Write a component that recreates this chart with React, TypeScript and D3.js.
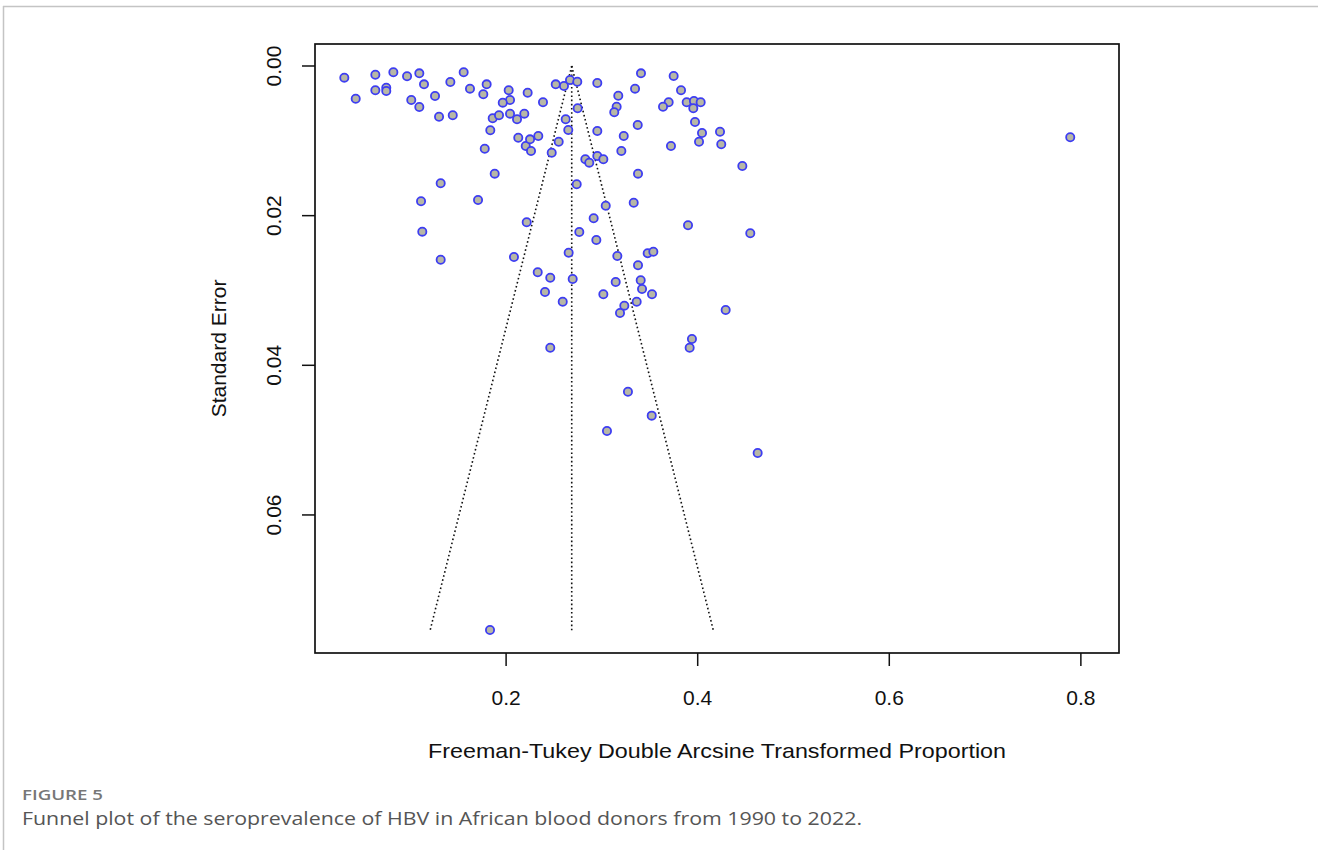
import React from "react";
import * as d3 from "d3";

// Freeman-Tukey transformed proportion (x) and standard error (y) per study
const effects: number[] = [
  0.0311, 0.0430, 0.0635, 0.0635, 0.0749, 0.0749, 0.0823, 0.0966, 0.1094, 0.1143,
  0.1010, 0.1094, 0.1258, 0.1300, 0.1443, 0.1418, 0.1557, 0.1623, 0.1797, 0.1762,
  0.2027, 0.2041, 0.1965, 0.2225, 0.1860, 0.1926, 0.2041, 0.2114, 0.2190, 0.1835,
  0.1777, 0.2127, 0.2205, 0.2385, 0.2518, 0.2604, 0.2667, 0.2743, 0.2952, 0.2747,
  0.2622, 0.2649, 0.2952, 0.3171, 0.3154, 0.3129, 0.3346, 0.3408, 0.3749, 0.3826,
  0.3697, 0.3638, 0.3885, 0.3961, 0.4031, 0.3954, 0.3972, 0.3374, 0.3228, 0.3203,
  0.3721, 0.4045, 0.4014, 0.4233, 0.4246, 0.2260, 0.2250, 0.2336, 0.2549, 0.2476,
  0.2827, 0.2868, 0.2952, 0.3015, 0.4466, 0.1317, 0.1112, 0.1707, 0.1125, 0.1317,
  0.1881, 0.2215, 0.2082, 0.2330, 0.2461, 0.2406, 0.2591, 0.2737, 0.3377, 0.3040,
  0.3332, 0.2914, 0.2764, 0.2942, 0.2653, 0.2695, 0.3161, 0.3377, 0.3478, 0.3537,
  0.3144, 0.3405, 0.3419, 0.3523, 0.3015, 0.3234, 0.3363, 0.3189, 0.3899, 0.4549,
  0.4292, 0.3940, 0.3916, 0.2461, 0.3272, 0.3520, 0.3053, 0.4626, 0.1832, 0.7889,
];

const standardErrors: number[] = [
  0.00156, 0.00437, 0.00116, 0.00325, 0.00290, 0.00334, 0.00084, 0.00138, 0.00098, 0.00245,
  0.00454, 0.00548, 0.00401, 0.00678, 0.00659, 0.00214, 0.00084, 0.00303, 0.00245, 0.00378,
  0.00325, 0.00454, 0.00490, 0.00357, 0.00699, 0.00659, 0.00637, 0.00712, 0.00637, 0.00859,
  0.01105, 0.00958, 0.01069, 0.00485, 0.00245, 0.00267, 0.00187, 0.00210, 0.00227, 0.00565,
  0.00712, 0.00855, 0.00869, 0.00397, 0.00544, 0.00619, 0.00303, 0.00098, 0.00134, 0.00325,
  0.00485, 0.00544, 0.00485, 0.00468, 0.00485, 0.00565, 0.00748, 0.00788, 0.00935, 0.01136,
  0.01069, 0.00895, 0.01012, 0.00878, 0.01046, 0.01136, 0.00980, 0.00935, 0.01012, 0.01159,
  0.01247, 0.01292, 0.01203, 0.01247, 0.01336, 0.01568, 0.01808, 0.01791, 0.02214, 0.02589,
  0.01439, 0.02089, 0.02552, 0.02757, 0.02829, 0.03020, 0.03150, 0.01581, 0.01439, 0.01867,
  0.01827, 0.02035, 0.02218, 0.02325, 0.02495, 0.02846, 0.02539, 0.02663, 0.02503, 0.02482,
  0.02887, 0.02864, 0.02980, 0.03051, 0.03051, 0.03203, 0.03150, 0.03301, 0.02129, 0.02236,
  0.03261, 0.03648, 0.03765, 0.03765, 0.04353, 0.04673, 0.04878, 0.05172, 0.07537, 0.00953,
];

const pooledEstimate = 0.2685;
const maxSE = 0.0754;
const xTicks: number[] = [0.2, 0.4, 0.6, 0.8];
const xTickLabels: string[] = ["0.2", "0.4", "0.6", "0.8"];
const yTicks: number[] = [0, 0.02, 0.04, 0.06];
const yTickLabels: string[] = ["0.00", "0.02", "0.04", "0.06"];

const xTitle = "Freeman-Tukey Double Arcsine Transformed Proportion";
const yTitle = "Standard Error";
const figureLabel = "FIGURE 5";
const caption =
  "Funnel plot of the seroprevalence of HBV in African blood donors from 1990 to 2022.";

export default function App() {
  const W = 1318;
  const H = 850;
  const box = { left: 315, right: 1119, top: 44, bottom: 653 };
  const x = d3.scaleLinear().domain([0.0005, 0.8398]).range([box.left, box.right]);
  const y = d3.scaleLinear().domain([-0.00294, 0.07845]).range([box.top, box.bottom]);

  const pts = effects.map((e, i) => ({ e, se: standardErrors[i] }));
  const line = d3
    .line<[number, number]>()
    .x((d) => x(d[0]))
    .y((d) => y(d[1]));
  const leftFunnel: [number, number][] = [
    [pooledEstimate, 0],
    [pooledEstimate - 1.96 * maxSE, maxSE],
  ];
  const rightFunnel: [number, number][] = [
    [pooledEstimate, 0],
    [pooledEstimate + 1.96 * maxSE, maxSE],
  ];
  const centerLine: [number, number][] = [
    [pooledEstimate, 0],
    [pooledEstimate, maxSE],
  ];
  const chartFont = "'Liberation Sans', Arial, sans-serif";
  const captionFont = "'Open Sans', 'Noto Sans', sans-serif";
  const cx = (box.left + box.right) / 2;
  const cy = (box.top + box.bottom) / 2;

  return (
    <svg
      width={W}
      height={H}
      style={{ position: "absolute", left: 0, top: 0, background: "#fff" }}
    >
      <rect x={0} y={0} width={W} height={H} fill="#fff" />
      <line x1={3} x2={W} y1={6.5} y2={6.5} stroke="#c4c4c4" strokeWidth={1.5} />
      <line x1={3.5} x2={3.5} y1={6} y2={H} stroke="#c4c4c4" strokeWidth={1.5} />

      {/* funnel lines */}
      {[leftFunnel, rightFunnel, centerLine].map((d, i) => (
        <path
          key={i}
          d={line(d) || ""}
          fill="none"
          stroke="#111"
          strokeWidth={1.6}
          strokeDasharray="1.6,2.6"
        />
      ))}

      {/* points */}
      {pts.map((p, i) => (
        <circle
          key={i}
          cx={x(p.e)}
          cy={y(p.se)}
          r={4.1}
          fill="#b7b7a6"
          stroke="#3d3df2"
          strokeWidth={1.8}
        />
      ))}

      {/* box */}
      <rect
        x={box.left}
        y={box.top}
        width={box.right - box.left}
        height={box.bottom - box.top}
        fill="none"
        stroke="#111"
        strokeWidth={1.7}
      />

      {/* x axis */}
      {xTicks.map((t, i) => (
        <g key={i}>
          <line x1={x(t)} x2={x(t)} y1={box.bottom} y2={box.bottom + 13} stroke="#111" strokeWidth={1.5} />
          <text
            x={x(t)}
            y={box.bottom + 44}
            textAnchor="middle"
            dominantBaseline="central"
            fontFamily={chartFont}
            fontSize={21}
            fill="#111"
          >
            {xTickLabels[i]}
          </text>
        </g>
      ))}
      {/* y axis */}
      {yTicks.map((t, i) => (
        <g key={i}>
          <line x1={box.left - 13} x2={box.left} y1={y(t)} y2={y(t)} stroke="#111" strokeWidth={1.5} />
          <text
            transform={`translate(${box.left - 42},${y(t)}) rotate(-90)`}
            textAnchor="middle"
            dominantBaseline="central"
            fontFamily={chartFont}
            fontSize={21}
            fill="#111"
          >
            {yTickLabels[i]}
          </text>
        </g>
      ))}

      <text
        x={cx}
        y={box.bottom + 97}
        textAnchor="middle"
        dominantBaseline="central"
        fontFamily={chartFont}
        fontSize={21}
        textLength={578}
        lengthAdjust="spacingAndGlyphs"
        fill="#111"
      >
        {xTitle}
      </text>
      <text
        transform={`translate(${box.left - 97},${cy}) rotate(-90)`}
        textAnchor="middle"
        dominantBaseline="central"
        fontFamily={chartFont}
        fontSize={21}
        fill="#111"
      >
        {yTitle}
      </text>

      <text
        x={22}
        y={800}
        fontFamily={captionFont}
        fontSize={15}
        fontWeight={600}
        fill="#777"
        textLength={81}
        lengthAdjust="spacingAndGlyphs"
      >
        {figureLabel}
      </text>
      <text
        x={22}
        y={825}
        fontFamily={captionFont}
        fontSize={18}
        fill="#555"
        textLength={840}
        lengthAdjust="spacingAndGlyphs"
      >
        {caption}
      </text>
    </svg>
  );
}
